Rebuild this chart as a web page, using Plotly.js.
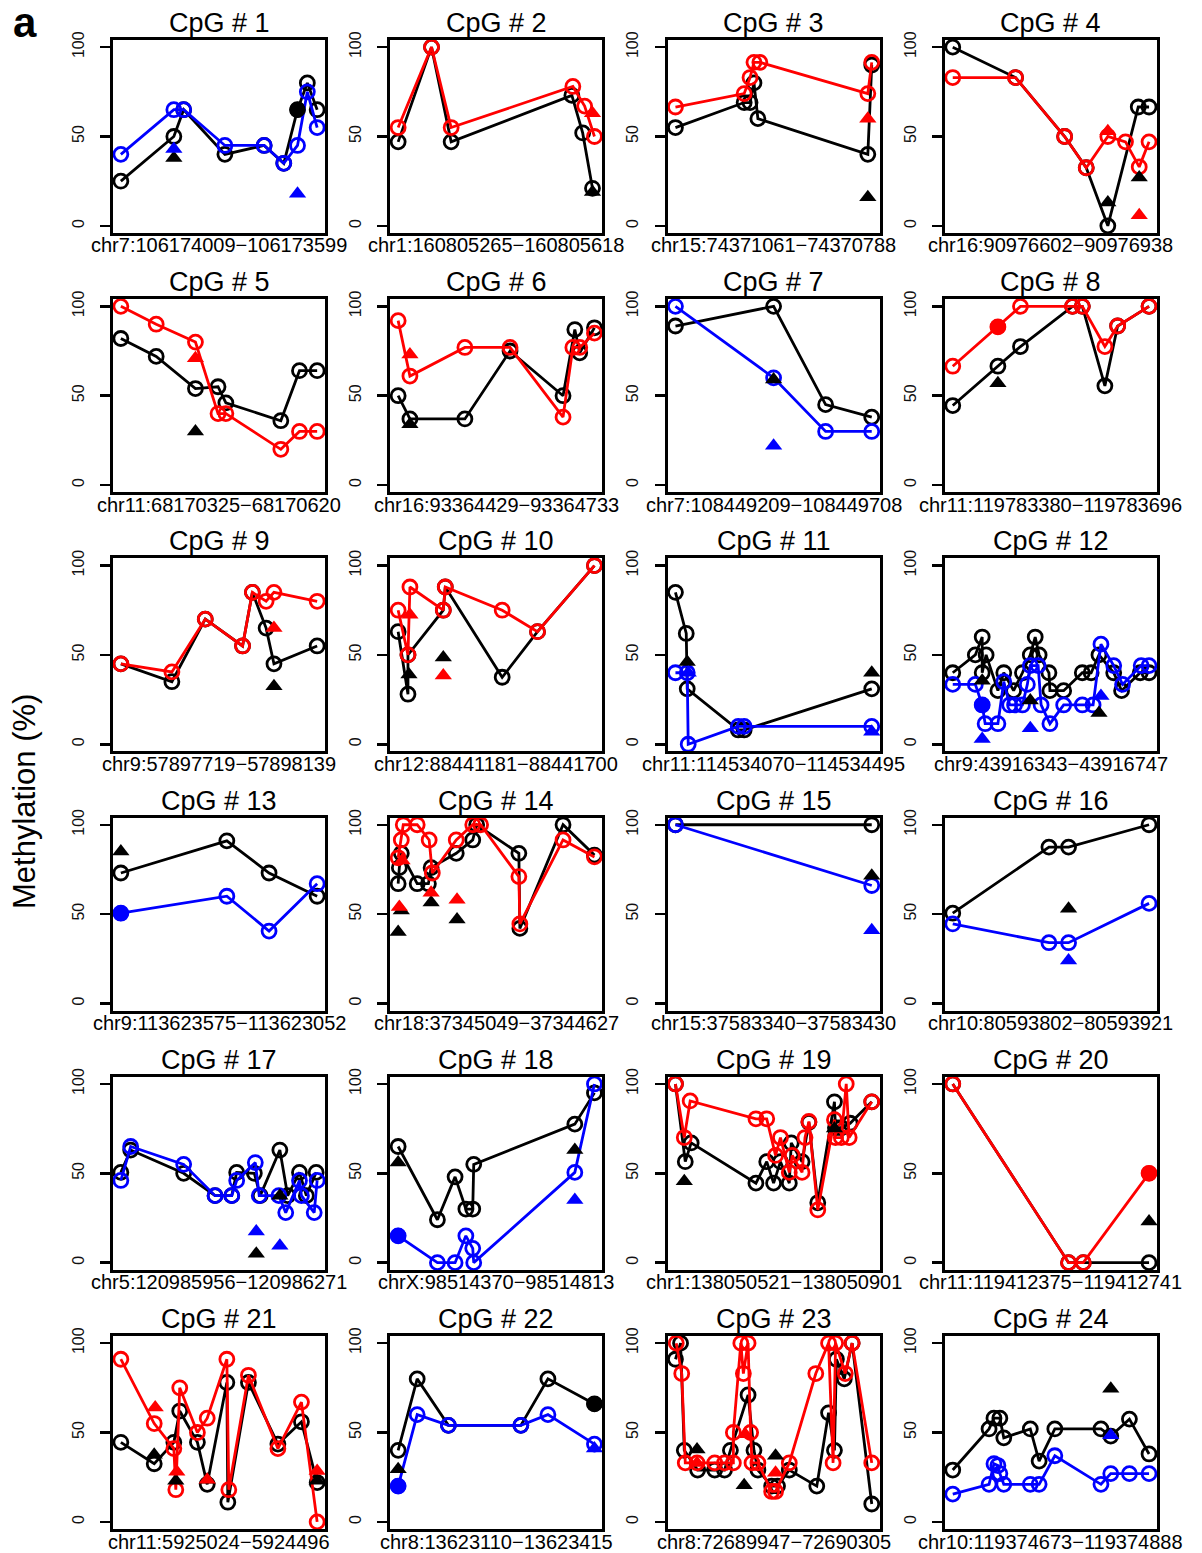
<!DOCTYPE html>
<html>
<head>
<meta charset="utf-8">
<script src="https://cdn.plot.ly/plotly-3.0.1.min.js"></script>
<style>
html,body{margin:0;padding:0;background:#fff;}
#chart{width:1202px;height:1553px;}
</style>
</head>
<body>
<div id="chart"></div>
<script>
// ---------------- DATA ----------------
const titles = ['CpG # 1','CpG # 2','CpG # 3','CpG # 4','CpG # 5','CpG # 6','CpG # 7','CpG # 8',
  'CpG # 9','CpG # 10','CpG # 11','CpG # 12','CpG # 13','CpG # 14','CpG # 15','CpG # 16',
  'CpG # 17','CpG # 18','CpG # 19','CpG # 20','CpG # 21','CpG # 22','CpG # 23','CpG # 24'];
const M = '\u2212';
const regions = [
  'chr7:106174009'+M+'106173599','chr1:160805265'+M+'160805618','chr15:74371061'+M+'74370788','chr16:90976602'+M+'90976938',
  'chr11:68170325'+M+'68170620','chr16:93364429'+M+'93364733','chr7:108449209'+M+'108449708','chr11:119783380'+M+'119783696',
  'chr9:57897719'+M+'57898139','chr12:88441181'+M+'88441700','chr11:114534070'+M+'114534495','chr9:43916343'+M+'43916747',
  'chr9:113623575'+M+'113623052','chr18:37345049'+M+'37344627','chr15:37583340'+M+'37583430','chr10:80593802'+M+'80593921',
  'chr5:120985956'+M+'120986271','chrX:98514370'+M+'98514813','chr1:138050521'+M+'138050901','chr11:119412375'+M+'119412741',
  'chr11:5925024'+M+'5924496','chr8:13623110'+M+'13623415','chr8:72689947'+M+'72690305','chr10:119374673'+M+'119374888'];
const yTicks = [0, 50, 100];
const yTickText = ['0', '50', '100'];
const yAxisTitle = 'Methylation (%)';
const panelLetter = 'a';

// positions along each region (0 = first CpG site, 100 = last), methylation in %
const blackX = [
  [0,27,32,53,73,83,90,95,100],
  [0,17,27,88.5,94,99],
  [0,35,38,40,42,98,100],
  [0,32,57,68,79,94.5,100],
  [0,18,38,49.5,53.5,81.5,91,100],
  [0,6,34,57,84,90,92.5,100],
  [0,50,76.5,100],
  [0,23,34.5,61,66,77.5,84,100],
  [0,26,43,62,67,74,78,100],
  [0,5,5,23,24,53,71,100],
  [0,5.5,6,32,35,100],
  [0,11.5,15,15,17,23,26,31,35.5,39.5,42,44,49,49.5,56.5,66,70.5,74.5,82,86,95.5,100],
  [0,54,75.5,100],
  [0,0.6,1.6,9.7,15.4,16.8,29.6,38,40,61.5,62,84,100],
  [0,100],
  [0,49,59,100],
  [0,5,32,48,56.5,59,68,71,81,85,91,94.5,99.5],
  [0,20,29,34.5,38,38.5,90,100],
  [0,5,8,41,46.5,50,53.5,58,59,64.5,68,72.5,81,81.5,84.5,89,100],
  [0,59,66.5,100],
  [0,17,27,30,39,44,54,54.5,65,80,92,100],
  [0,9.7,25.6,62.5,76.3,100],
  [0,2.6,4.5,11.3,20,25,28,37,40,42,49,52,58,72,78,81,82,86,90,100],
  [0,18.5,21,24,26,39.5,44,52,75.5,80.5,90,100]];
const blackY = [
  [25,50,65,40,45,35,65,80,65],
  [47,100,47,73,52,21],
  [55,69,69,80,60,40,90],
  [100,83,50,32.5,0,66.5,66.5],
  [82,72,54,55,46,36,64,64],
  [50,37,37,75,50,87,74,88],
  [89,100,45,38],
  [44.5,66.5,77.5,100,100,55.5,89,100],
  [45,35,70,55,85,65,45,55],
  [63,28,50,75,88,37.5,63,100],
  [85,62,31,8,8,31],
  [40,50,60,40,50,30,40,30,40,50,60,50,40,30,30,40,40,50,40,30,40,40],
  [73,91,73,60],
  [67,76,84,67,67,76,84,91.5,100,84,42,100,83],
  [100,100],
  [50.5,87.5,87.5,100],
  [50.5,63,50,37.5,37.5,50.5,50,37.5,63,37.5,50.5,37.5,50.5],
  [65,24,48,30,30,55,77.5,95],
  [100,56.5,67,44.5,56.5,44.5,56.5,44.5,67,56.5,78.5,33.5,90,75.5,75.5,78,90],
  [100,0,0,0],
  [44.5,32.5,44.5,62,44.5,21,78,11,78,43.5,56,22],
  [40,80,54,54,80,66],
  [91,100,40,29,29,29,40,71,40,29,20,20,29,20,61,40,91,80,100,10],
  [29,52,58,58,47,52,34,52,52,48,57.5,38]];

const redX = [
  [],
  [0,17,27,89,95,100],
  [0,35,38,40,43,98,100],
  [0,32,57,68,79,88,95,100],
  [0,18,38,49.5,53.5,81.5,91,100],
  [0,6,34,57,84,89,92.5,100],
  [],
  [0,23,34.5,61,66,77.5,84,100],
  [0,26,43,62,67,74,78,100],
  [0,5,6,23,24,53,71,100],
  [],[],[],
  [0,1.6,2.6,9.7,15.8,17.4,29.6,38,42,61.5,62,84,100],
  [],[],[],[],
  [0,4.5,7.5,41,46.5,51,53.5,58,59.5,64.5,66,68,72.5,81,81.5,84.5,87,88.5,100],
  [0,59,66.5,100],
  [0,17,27,28,30,39,44,54,55,65,80,92,100],
  [],
  [0.4,3.2,5,11,20,25,29.5,29.5,33.3,34.6,37,38.3,39,42,49,51,58,71.5,78,80.3,81.6,86.5,90,100],
  []];
const redY = [
  [],
  [55,100,55,78,67,50],
  [66.5,74,83,91.5,91.5,74,91.5],
  [83,83,50,32.5,50,47,33,47],
  [100,90,80,40,40,20,30,30],
  [92,61,77,77,38,77,77,85],
  [],
  [66.5,88.5,100,100,100,77.5,89,100],
  [45,40.5,70,55,85,80,85,80],
  [75,50,88,75,88,75,63,100],
  [],[],[],
  [81.5,91.5,100,100,91.5,73,91.5,100,100,71,44.5,91.5,82],
  [],[],[],[],
  [100,70,90.5,80.5,80.5,60,70,50.5,60,50.5,70,79,29.5,80,70,70,100,70,90],
  [100,0,0,50],
  [91,55,41,18,75,50,58,91,18,82,41,67,0],
  [],
  [100,83,33,33,33,33,33,50,100,83,100,50,33,33,17,17,33,83,100,33,100,83,100,33],
  []];

const blueX = [
  [0,27,32,53,73,83,90,95,100],
  [],[],[],[],[],
  [0,50,76.5,100],
  [],[],[],
  [0,6,6.5,32,35,100],
  [0,11.5,15,16.5,23,26,29,31.5,35.5,38,39.5,43.5,45,49.5,56.5,66,71.5,75.5,82,86.5,96,100],
  [0,54,75.5,100],
  [],
  [0,100],
  [0,49,59,100],
  [0,5,32,48,56.5,59,68.5,70.5,80.5,84,91,92,98.5,100],
  [0,20,29,34.5,38,38.5,90,100],
  [],[],[],
  [0,9.7,25.6,62.5,76.3,100],
  [],
  [0,18.5,21,23,24,26,39.5,44,52,75.5,80.5,90,100]];
const blueY = [
  [40,65,65,45,45,35,45,75,55],
  [],[],[],[],[],
  [100,60,30,30],
  [],[],[],
  [40,40,0,10,10,10],
  [33.5,33.5,22,11.5,11.5,35,22,22,22,33.5,44,44,22,11.5,22,22,22,56,44,33.5,44,44],
  [50.5,60,40.5,67],
  [],
  [100,66],
  [44.5,34,34,56],
  [46,65,55,37.5,37.5,46,56,37.5,37.5,28,46,37.5,28,46],
  [15,0,0,15,8,0,50.5,100],
  [],[],[],
  [20,60,54,54,60,43.5],
  [],
  [15.5,21,32.5,31.5,27,21,21,21,37,21,27,27,27]];

// triangles (single-sample values)
const triBlackX = [[27],[99],[98],[79,95],[38],[6],[50],[23],[78],[5.5,23],[6,100],[15,39.5,74.5],
  [0],[0,1.6,16.8,30],[100],[59],[69,81],[0,90],[4.5,81],[100],[17,28,44,100],[0],[11,35,51],[80.5]];
const triBlackY = [[38],[19],[16],[13,27],[30],[34],[59],[57],[32.5],[39,48.5],[46,40],[35.5,24.5,17.5],
  [85],[40,52,56.5,47],[71.5],[53],[5,37.5],[56,63],[45.5,75],[23],[37.5,23,23.5,23],[29.5],[40.5,20.5,37],[74.5]];
const triRedX = [[],[99],[98],[79,95],[38],[6],[],[],[78],[6,23],[],[],
  [],[0.6,2,16.8,30],[],[],[],[],[],[],[17.5,28.5,44,100],[],[11,35.5,51],[]];
const triRedY = [[],[63],[60],[53,6],[71],[73],[],[],[65],[72.5,38.5],[],[],
  [],[54,80,62,58],[],[],[],[],[],[],[64,28,23.5,28.5],[],[33,49,27.5],[]];
const triBlueX = [[27,90],[],[],[],[],[],[50],[],[],[],[6.5,100],[15,39.5,75.5],
  [],[],[100],[59],[69,81],[90],[],[],[],[100],[],[80.5]];
const triBlueY = [[43,18],[],[],[],[],[],[22],[],[],[],[40,7],[3,9,27],
  [],[],[41],[24],[17.5,9.5],[35],[],[],[],[41],[],[48.5]];

// filled (solid) circles
const dotBlackX = [[90],[],[],[],[],[],[],[],[],[],[],[],[],[],[],[],[],[],[],[],[],[100],[],[]];
const dotBlackY = [[65],[],[],[],[],[],[],[],[],[],[],[],[],[],[],[],[],[],[],[],[],[66],[],[]];
const dotRedX = [[],[],[],[],[],[],[],[23],[],[],[],[],[],[],[],[],[],[],[],[100],[],[],[],[]];
const dotRedY = [[],[],[],[],[],[],[],[88.5],[],[],[],[],[],[],[],[],[],[],[],[50],[],[],[],[]];
const dotBlueX = [[],[],[],[],[],[],[],[],[],[],[],[15],[0],[],[],[],[],[0],[],[],[],[0],[],[]];
const dotBlueY = [[],[],[],[],[],[],[],[],[],[],[],[22],[50.5],[],[],[],[],[15],[],[],[],[20],[],[]];

// ---------------- DRAWING ----------------
const W = 1202, H = 1553;
const FONT = 'Liberation Sans, Arial, Helvetica, sans-serif';
const COLORS = {black:'#000000', red:'#ff0000', blue:'#0000ff'};
const traces = [];
const layout = {
  width: W, height: H,
  margin: {l:0, r:0, t:0, b:0},
  paper_bgcolor: '#fff', plot_bgcolor: '#fff',
  showlegend: false,
  font: {family: FONT, color: '#000'},
  annotations: []
};

function lineTrace(x, y, col, ax) {
  return {x, y, xaxis: ax.x, yaxis: ax.y, type: 'scatter', mode: 'lines+markers',
    line: {color: col, width: 2.8},
    marker: {symbol: 'circle-open', size: 14, color: col, line: {color: col, width: 2.8}},
    hoverinfo: 'skip', cliponaxis: false};
}
function markTrace(x, y, col, ax, sym, size) {
  return {x, y, xaxis: ax.x, yaxis: ax.y, type: 'scatter', mode: 'markers',
    marker: {symbol: sym, size: size, color: col, line: {width: 0}},
    hoverinfo: 'skip', cliponaxis: false};
}

for (let i = 0; i < titles.length; i++) {
  const r = Math.floor(i / 4), c = i % 4;
  const left = 113 + c * 277.3, right = left + 212;
  const top = 40 + r * 259.2, bottom = top + 193;
  const n = i === 0 ? '' : String(i + 1);
  const ax = {x: 'x' + n, y: 'y' + n};
  layout['xaxis' + n] = {
    domain: [left / W, right / W], range: [-4, 104], anchor: ax.y,
    showline: true, mirror: true, linewidth: 3, linecolor: '#000',
    showticklabels: false, ticks: '', showgrid: false, zeroline: false, fixedrange: true
  };
  layout['yaxis' + n] = {
    domain: [1 - bottom / H, 1 - top / H], range: [-4, 104], anchor: ax.x,
    showline: true, mirror: true, linewidth: 3, linecolor: '#000',
    tickvals: yTicks, ticktext: yTickText, ticks: 'outside', ticklen: 10, tickwidth: 2.5, tickcolor: '#000',
    tickangle: -90, tickfont: {size: 16, family: FONT, color: '#111'}, ticklabelstandoff: 10,
    showgrid: false, zeroline: false, fixedrange: true
  };
  layout.annotations.push({
    text: titles[i], xref: 'paper', yref: 'paper', x: (left + right) / 2 / W, y: 1 - top / H,
    xanchor: 'center', yanchor: 'middle', yshift: 17, showarrow: false,
    font: {size: 27, family: FONT, color: '#000'}
  });
  layout.annotations.push({
    text: regions[i], xref: 'paper', yref: 'paper', x: (left + right) / 2 / W, y: 1 - bottom / H,
    xanchor: 'center', yanchor: 'middle', yshift: -12.5, borderpad: 0, showarrow: false,
    font: {size: 20, family: FONT, color: '#000'}
  });

  if (blackX[i].length) traces.push(lineTrace(blackX[i], blackY[i], COLORS.black, ax));
  if (redX[i].length) traces.push(lineTrace(redX[i], redY[i], COLORS.red, ax));
  if (blueX[i].length) traces.push(lineTrace(blueX[i], blueY[i], COLORS.blue, ax));
  if (dotBlackX[i].length) traces.push(markTrace(dotBlackX[i], dotBlackY[i], COLORS.black, ax, 'circle', 16));
  if (dotRedX[i].length) traces.push(markTrace(dotRedX[i], dotRedY[i], COLORS.red, ax, 'circle', 16));
  if (dotBlueX[i].length) traces.push(markTrace(dotBlueX[i], dotBlueY[i], COLORS.blue, ax, 'circle', 16));
  if (triBlackX[i].length) traces.push(markTrace(triBlackX[i], triBlackY[i], COLORS.black, ax, 'triangle-up', 15));
  if (triRedX[i].length) traces.push(markTrace(triRedX[i], triRedY[i], COLORS.red, ax, 'triangle-up', 15));
  if (triBlueX[i].length) traces.push(markTrace(triBlueX[i], triBlueY[i], COLORS.blue, ax, 'triangle-up', 15));
}

layout.annotations.push({
  text: yAxisTitle, xref: 'paper', yref: 'paper', x: 25 / W, y: 1 - 802 / H,
  xanchor: 'center', yanchor: 'middle', textangle: -90, showarrow: false,
  font: {size: 31, family: FONT, color: '#000'}
});
layout.annotations.push({
  text: '<b>' + panelLetter + '</b>', xref: 'paper', yref: 'paper', x: 25 / W, y: 1 - 22 / H,
  xanchor: 'center', yanchor: 'middle', borderpad: 0, showarrow: false,
  font: {size: 42, family: FONT, color: '#000'}
});

Plotly.newPlot('chart', traces, layout, {staticPlot: true, displayModeBar: false});
</script>
</body>
</html>
